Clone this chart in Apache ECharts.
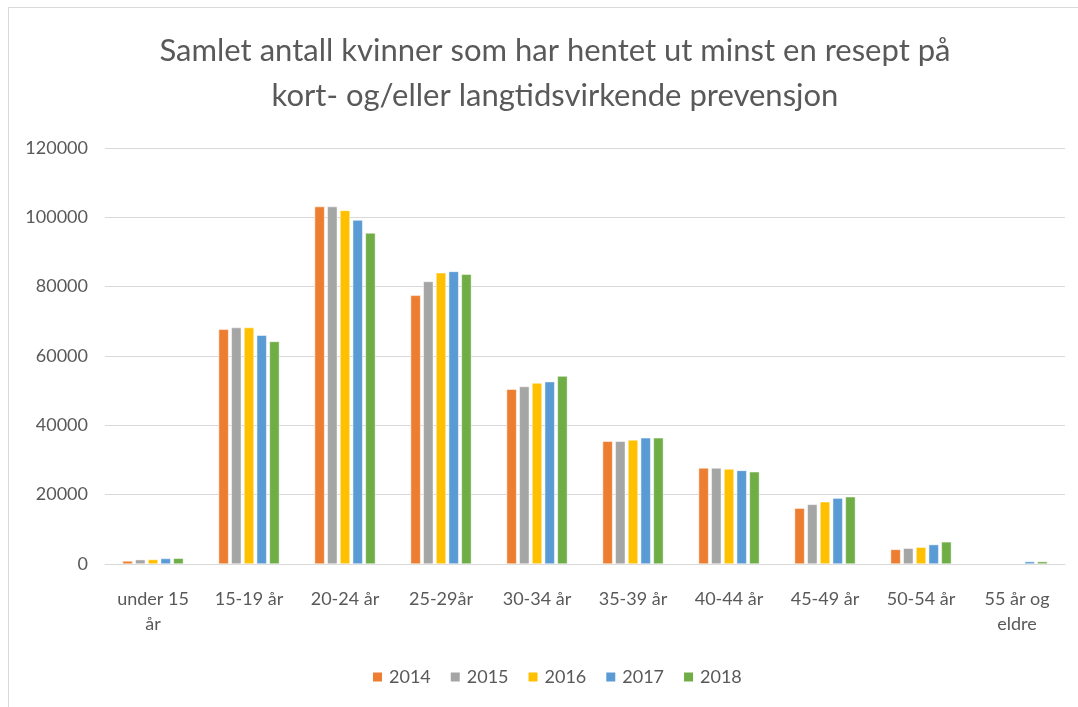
<!DOCTYPE html>
<html>
<head>
<meta charset="utf-8">
<script src="https://cdn.jsdelivr.net/npm/echarts@6/dist/echarts.min.js"></script>
<style>
  html, body { margin: 0; padding: 0; background: #fff; overflow: hidden; }
  #frame {
    position: absolute; left: 8px; top: 7px; width: 1200px; height: 800px;
    border-left: 1px solid #d9d9d9; border-top: 1px solid #d9d9d9;
  }
  #chart { position: absolute; left: 0; top: 0; width: 1078px; height: 707px; }
</style>
</head>
<body>
<div id="frame"></div>
<div id="chart"></div>
<script>
var categories = ['under 15\når', '15-19 år', '20-24 år', '25-29år', '30-34 år', '35-39 år', '40-44 år', '45-49 år', '50-54 år', '55 år og\neldre']
var years = ['2014', '2015', '2016', '2017', '2018']
var colors = ['#ED7D31', '#A5A5A5', '#FFC000', '#5B9BD5', '#70AD47']

var v2014 = [870, 67700, 103100, 77500, 50400, 35400, 27700, 16100, 4200, null]
var v2015 = [1250, 68200, 103100, 81500, 51200, 35400, 27700, 17200, 4550, null]
var v2016 = [1300, 68200, 102000, 84000, 52200, 35800, 27400, 17950, 4850, null]
var v2017 = [1600, 66000, 99200, 84400, 52600, 36400, 27000, 19000, 5600, 700]
var v2018 = [1650, 64200, 95500, 83600, 54200, 36400, 26600, 19400, 6400, 700]
var values = [v2014, v2015, v2016, v2017, v2018]

var font = 'Lato, "Open Sans", sans-serif'
var textColor = '#595959'

var mychart = echarts.init(document.getElementById('chart'))
mychart.setOption({
  animation: false,
  color: colors,
  title: {
    text: 'Samlet antall kvinner som har hentet ut minst en resept på\nkort- og/eller langtidsvirkende prevensjon',
    left: 550,
    textAlign: 'center',
    top: 23,
    textStyle: {
      fontFamily: font,
      fontSize: 31,
      fontWeight: 'normal',
      color: textColor,
      lineHeight: 45
    }
  },
  legend: {
    data: years,
    left: 366,
    top: 663,
    itemWidth: 11,
    itemHeight: 11,
    itemGap: 18,
    icon: 'rect',
    textStyle: {
      fontFamily: font,
      fontSize: 18,
      color: textColor,
      padding: [0, 0, 0, 1]
    }
  },
  grid: {
    left: 105,
    right: 13,
    top: 148,
    bottom: 143
  },
  xAxis: {
    type: 'category',
    data: categories,
    axisLine: { lineStyle: { color: '#d9d9d9', width: 1 } },
    axisTick: { show: false },
    axisLabel: {
      fontFamily: font,
      fontSize: 18,
      color: textColor,
      margin: 23,
      lineHeight: 25,
      interval: 0
    }
  },
  yAxis: {
    type: 'value',
    min: 0,
    max: 120000,
    interval: 20000,
    axisLine: { show: false },
    axisTick: { show: false },
    splitLine: { lineStyle: { color: '#d9d9d9', width: 1 } },
    axisLabel: {
      fontFamily: font,
      fontSize: 18,
      color: textColor,
      margin: 17,
      formatter: function (v) { return String(v) }
    }
  },
  series: years.map(function (y, i) {
    return {
      name: y,
      type: 'bar',
      data: values[i],
      barWidth: 10,
      barGap: '27%',
      itemStyle: { borderColor: '#fff', borderWidth: 0.5 }
    }
  })
})
</script>
</body>
</html>
